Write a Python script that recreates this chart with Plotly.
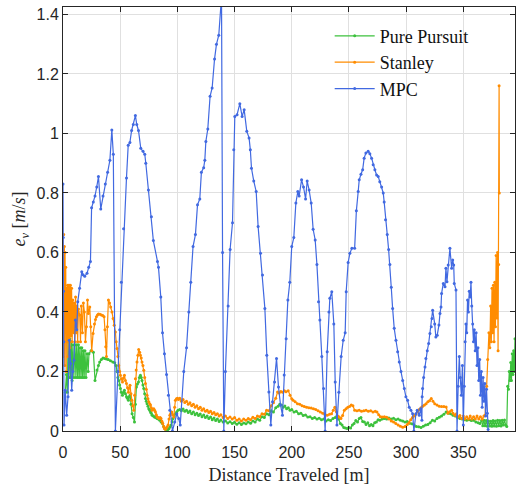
import plotly.graph_objects as go

# ---------------- data ----------------
pp_x = [2.0, 3.0, 3.8, 4.4, 5.2, 5.9, 6.6, 7.3, 8.0, 8.7, 9.5, 10.5, 11.3, 12.0, 12.8, 13.5, 14.2, 14.9, 15.7, 16.4,
        17.1, 17.8, 18.5, 19.2, 20.1, 21.0, 22.0, 22.7, 24.5, 26.6, 28.0, 29.7, 31.0, 32.1, 33.5, 35.0, 36.5, 38.0, 39.5, 41.5,
        43.5, 45.2, 46.3, 47.2, 48.0, 48.7, 49.5, 50.2, 51.0, 52.0, 53.0, 53.7, 54.6, 55.5, 56.3, 57.2, 58.0, 58.6, 59.5, 60.4,
        61.5, 62.5, 63.3, 64.2, 65.1, 66.0, 66.8, 67.7, 68.4, 69.1, 69.9, 70.6, 71.4, 72.1, 72.8, 73.5, 74.3, 75.0, 75.8, 76.5,
        77.2, 77.9, 79.0, 80.0, 81.0, 82.2, 83.4, 84.6, 85.8, 87.0, 88.0, 89.0, 90.0, 91.0, 91.8, 92.7, 93.6, 94.5, 95.3, 96.2,
        97.2, 98.3, 99.4, 100.6, 102.0, 103.5, 105.0, 106.5, 108.0, 109.5, 111.0, 112.5, 114.0, 115.5, 117.0, 118.5, 120.0, 121.5, 123.0, 124.5,
        126.0, 127.5, 129.0, 130.5, 132.0, 133.5, 135.0, 136.5, 138.0, 140.0, 142.0, 144.0, 146.0, 148.0, 150.0, 152.0, 154.0, 156.0, 158.0, 160.0,
        162.0, 164.0, 166.0, 168.0, 170.0, 172.0, 174.0, 176.0, 178.0, 180.0, 182.0, 184.0, 186.0, 188.0, 189.5, 191.0, 192.5, 194.0, 195.5, 197.0,
        198.5, 200.0, 202.0, 204.0, 206.0, 208.0, 210.0, 212.0, 214.0, 216.0, 218.0, 220.0, 222.0, 224.0, 226.0, 228.0, 230.0, 232.0, 234.0, 236.0,
        238.0, 239.5, 241.0, 242.5, 244.0, 245.5, 247.0, 248.5, 250.0, 251.5, 253.0, 254.5, 256.0, 257.5, 259.0, 260.5, 262.0, 263.5, 265.0, 266.5,
        268.0, 269.5, 271.0, 272.5, 274.0, 275.5, 277.0, 279.0, 281.0, 283.0, 285.0, 287.0, 289.0, 291.0, 293.0, 295.0, 297.0, 299.0, 301.0, 303.0,
        305.0, 307.0, 309.0, 311.0, 313.0, 315.0, 317.0, 319.0, 321.0, 323.0, 325.0, 327.0, 329.0, 331.0, 333.0, 335.0, 337.0, 339.0, 341.0, 343.0,
        345.0, 347.0, 349.0, 351.0, 353.0, 355.0, 357.0, 359.0, 361.0, 363.0, 364.5, 366.0, 367.0, 368.0, 369.0, 370.0, 371.0, 372.0, 373.0, 374.0,
        375.0, 376.0, 377.0, 378.0, 379.0, 380.0, 381.0, 382.0, 383.0, 384.0, 385.0, 386.0, 387.0, 388.0, 388.8, 389.5, 390.2, 390.8, 391.5, 392.1,
        392.8, 393.4, 394.0, 394.6, 395.2]
pp_y = [0.13, 0.19, 0.13, 0.30, 0.18, 0.31, 0.18, 0.30, 0.17, 0.29, 0.18, 0.29, 0.18, 0.29, 0.18, 0.29, 0.18, 0.28, 0.18, 0.28,
        0.18, 0.27, 0.18, 0.27, 0.18, 0.26, 0.20, 0.26, 0.27, 0.265, 0.17, 0.205, 0.22, 0.232, 0.24, 0.245, 0.244, 0.242, 0.24, 0.236,
        0.232, 0.229, 0.22, 0.20, 0.18, 0.17, 0.155, 0.143, 0.13, 0.12, 0.13, 0.137, 0.125, 0.115, 0.11, 0.103, 0.115, 0.12, 0.09, 0.058,
        0.045, 0.03, 0.09, 0.148, 0.158, 0.165, 0.18, 0.187, 0.18, 0.17, 0.155, 0.143, 0.125, 0.109, 0.10, 0.092, 0.083, 0.075, 0.07, 0.064,
        0.06, 0.053, 0.05, 0.047, 0.045, 0.042, 0.04, 0.036, 0.03, 0.025, 0.015, 0.008, 0.004, 0.002, 0.005, 0.008, 0.014, 0.02, 0.03, 0.042,
        0.05, 0.058, 0.064, 0.07, 0.072, 0.068, 0.074, 0.066, 0.07, 0.062, 0.067, 0.058, 0.064, 0.055, 0.06, 0.052, 0.057, 0.048, 0.054, 0.045,
        0.05, 0.042, 0.047, 0.038, 0.044, 0.035, 0.04, 0.032, 0.037, 0.03, 0.034, 0.027, 0.031, 0.025, 0.029, 0.023, 0.028, 0.022, 0.027, 0.024,
        0.03, 0.026, 0.034, 0.03, 0.04, 0.036, 0.048, 0.045, 0.058, 0.055, 0.068, 0.064, 0.078, 0.083, 0.09, 0.087, 0.08, 0.084, 0.075, 0.078,
        0.07, 0.072, 0.064, 0.066, 0.058, 0.06, 0.052, 0.054, 0.047, 0.048, 0.042, 0.045, 0.04, 0.043, 0.038, 0.04, 0.034, 0.038, 0.035, 0.042,
        0.045, 0.05, 0.04, 0.025, 0.02, 0.012, 0.01, 0.008, 0.012, 0.01, 0.02, 0.025, 0.035, 0.03, 0.042, 0.045, 0.032, 0.03, 0.022, 0.028,
        0.018, 0.022, 0.018, 0.028, 0.03, 0.038, 0.036, 0.04, 0.042, 0.04, 0.044, 0.04, 0.043, 0.038, 0.04, 0.036, 0.034, 0.03, 0.032, 0.026,
        0.024, 0.02, 0.015, 0.014, 0.012, 0.016, 0.02, 0.022, 0.028, 0.036, 0.034, 0.042, 0.046, 0.05, 0.056, 0.064, 0.06, 0.058, 0.053, 0.05,
        0.045, 0.042, 0.04, 0.038, 0.036, 0.038, 0.035, 0.036, 0.03, 0.028, 0.025, 0.035, 0.018, 0.036, 0.018, 0.035, 0.016, 0.034, 0.017, 0.033,
        0.016, 0.035, 0.017, 0.034, 0.016, 0.036, 0.018, 0.035, 0.017, 0.036, 0.02, 0.037, 0.02, 0.015, 0.15, 0.14, 0.20, 0.17, 0.23, 0.17,
        0.26, 0.19, 0.27, 0.20, 0.31]

st_x = [0.0, 0.3, 0.6, 0.9, 1.2, 1.5, 1.8, 2.1, 2.4, 2.8, 3.2, 3.6, 4.0, 4.4, 4.8, 5.2, 5.6, 6.0, 6.5, 7.0,
        7.5, 8.0, 8.6, 9.2, 9.8, 10.4, 11.0, 11.6, 12.2, 12.8, 13.5, 14.6, 15.3, 16.0, 17.0, 17.8, 18.7, 19.6, 20.5, 21.4,
        22.2, 23.4, 24.3, 25.1, 26.3, 27.5, 28.4, 29.2, 30.1, 31.0, 32.3, 33.6, 34.8, 35.9, 36.7, 37.4, 38.0, 38.8, 39.7, 40.7,
        41.7, 42.8, 43.8, 44.8, 45.8, 46.5, 47.2, 48.0, 48.7, 49.5, 50.2, 51.1, 52.0, 52.9, 53.7, 54.6, 55.5, 56.4, 57.2, 57.9,
        58.6, 59.4, 60.1, 61.0, 61.9, 62.6, 63.3, 64.0, 64.7, 65.5, 66.2, 67.0, 67.7, 68.4, 69.1, 69.9, 70.6, 71.4, 72.1, 72.8,
        73.5, 74.3, 75.0, 75.8, 76.5, 77.2, 77.9, 78.7, 79.4, 80.1, 80.8, 81.5, 82.2, 83.1, 84.0, 84.9, 85.7, 86.5, 87.2, 88.0,
        88.7, 89.4, 90.1, 91.0, 91.9, 92.7, 93.4, 94.3, 95.1, 96.0, 96.9, 97.6, 98.3, 99.2, 100.1, 101.0, 102.0, 103.5, 105.0, 106.5,
        108.0, 109.5, 111.0, 112.5, 114.0, 115.5, 117.0, 118.5, 120.0, 121.5, 123.0, 124.5, 126.0, 127.5, 129.0, 130.5, 132.0, 133.5, 135.0, 136.5,
        138.0, 140.0, 142.0, 144.0, 146.0, 148.0, 150.0, 152.0, 154.0, 156.0, 158.0, 160.0, 162.0, 164.0, 166.0, 168.0, 170.0, 172.0, 174.0, 176.0,
        178.0, 180.0, 182.0, 184.0, 186.0, 187.6, 189.0, 190.5, 192.0, 193.5, 195.0, 196.9, 198.5, 200.0, 201.2, 203.0, 205.0, 207.0, 209.0, 211.0,
        213.0, 215.0, 217.0, 219.0, 221.0, 223.0, 225.0, 227.0, 229.0, 231.0, 233.0, 234.8, 236.3, 237.7, 239.0, 240.3, 241.5, 243.0, 244.5, 246.0,
        247.5, 249.0, 250.5, 252.0, 253.5, 255.0, 257.0, 259.0, 261.0, 263.0, 265.0, 267.0, 269.0, 271.0, 273.0, 274.5, 276.0, 277.5, 279.0, 281.0,
        283.0, 285.0, 287.0, 289.0, 291.0, 293.0, 295.0, 297.0, 299.0, 301.0, 302.5, 304.0, 305.5, 307.0, 308.5, 310.0, 311.5, 313.0, 314.5, 316.0,
        317.5, 319.0, 320.5, 322.0, 323.5, 325.0, 327.0, 329.0, 331.0, 333.0, 335.0, 336.5, 338.0, 339.8, 341.0, 342.7, 344.0, 345.5, 347.0, 348.5,
        350.0, 351.5, 353.0, 354.5, 356.0, 357.5, 359.0, 360.5, 362.0, 363.5, 365.0, 366.5, 368.0, 369.0, 370.4, 371.3, 372.4, 373.2, 373.9, 374.5,
        375.1, 375.7, 376.3, 376.9, 377.5, 378.1, 378.7, 379.3, 379.9, 380.4, 380.9, 381.3, 381.5]
st_y = [0.66, 0.25, 0.66, 0.30, 0.62, 0.22, 0.60, 0.35, 0.55, 0.20, 0.48, 0.30, 0.49, 0.25, 0.49, 0.30, 0.49, 0.28, 0.49, 0.32,
        0.48, 0.30, 0.44, 0.33, 0.43, 0.30, 0.45, 0.33, 0.42, 0.30, 0.41, 0.39, 0.30, 0.42, 0.33, 0.43, 0.40, 0.30, 0.35, 0.44,
        0.395, 0.417, 0.35, 0.27, 0.328, 0.36, 0.375, 0.384, 0.39, 0.393, 0.392, 0.39, 0.388, 0.384, 0.34, 0.283, 0.25, 0.35, 0.44, 0.43,
        0.417, 0.40, 0.378, 0.355, 0.333, 0.30, 0.277, 0.25, 0.22, 0.20, 0.187, 0.175, 0.165, 0.178, 0.187, 0.17, 0.16, 0.145, 0.13, 0.145,
        0.154, 0.125, 0.103, 0.085, 0.07, 0.12, 0.176, 0.205, 0.232, 0.255, 0.274, 0.265, 0.255, 0.245, 0.232, 0.22, 0.204, 0.18, 0.16, 0.14,
        0.12, 0.108, 0.098, 0.092, 0.087, 0.078, 0.07, 0.073, 0.075, 0.07, 0.064, 0.055, 0.047, 0.045, 0.042, 0.045, 0.042, 0.033, 0.025, 0.015,
        0.008, 0.006, 0.008, 0.014, 0.02, 0.04, 0.053, 0.06, 0.064, 0.055, 0.047, 0.08, 0.103, 0.108, 0.11, 0.106, 0.11, 0.10, 0.106, 0.096,
        0.10, 0.09, 0.095, 0.085, 0.09, 0.08, 0.085, 0.075, 0.08, 0.07, 0.075, 0.066, 0.07, 0.062, 0.066, 0.058, 0.062, 0.055, 0.058, 0.05,
        0.055, 0.045, 0.05, 0.042, 0.047, 0.04, 0.045, 0.036, 0.04, 0.034, 0.04, 0.036, 0.042, 0.038, 0.046, 0.042, 0.05, 0.048, 0.058, 0.056,
        0.07, 0.068, 0.085, 0.095, 0.11, 0.131, 0.128, 0.133, 0.13, 0.135, 0.132, 0.135, 0.12, 0.108, 0.103, 0.098, 0.092, 0.09, 0.085, 0.082,
        0.08, 0.078, 0.077, 0.075, 0.072, 0.068, 0.064, 0.06, 0.056, 0.053, 0.056, 0.058, 0.07, 0.08, 0.065, 0.05, 0.047, 0.042, 0.052, 0.07,
        0.075, 0.08, 0.082, 0.087, 0.085, 0.07, 0.068, 0.07, 0.066, 0.068, 0.07, 0.066, 0.068, 0.064, 0.066, 0.064, 0.055, 0.048, 0.047, 0.048,
        0.046, 0.04, 0.034, 0.03, 0.025, 0.02, 0.016, 0.013, 0.015, 0.022, 0.028, 0.038, 0.045, 0.05, 0.056, 0.065, 0.072, 0.078, 0.083, 0.087,
        0.092, 0.098, 0.102, 0.109, 0.10, 0.092, 0.087, 0.083, 0.082, 0.082, 0.081, 0.06, 0.065, 0.07, 0.06, 0.053, 0.058, 0.047, 0.052, 0.042,
        0.05, 0.04, 0.048, 0.04, 0.05, 0.04, 0.048, 0.04, 0.05, 0.04, 0.048, 0.04, 0.05, 0.053, 0.15, 0.24, 0.33, 0.28, 0.42, 0.30,
        0.48, 0.33, 0.49, 0.30, 0.50, 0.35, 0.59, 0.38, 0.60, 0.27, 0.56, 1.16, 0.80]

mpc_x = [0.0, 0.2, 0.4, 0.6, 0.9, 2.0, 3.2, 4.4, 5.5, 6.7, 7.6, 8.5, 9.6, 10.8, 12.0, 12.9, 14.5, 16.4, 17.5, 19.0,
         21.0, 22.5, 24.0, 25.0, 26.5, 28.0, 29.5, 31.0, 33.0, 35.0, 37.0, 39.0, 41.0, 42.7, 44.0, 45.8, 48.0, 49.6, 51.0, 53.0,
         55.5, 57.0, 58.5, 60.0, 61.5, 63.3, 64.5, 66.0, 68.0, 70.0, 71.5, 72.4, 74.7, 77.3, 79.0, 82.6, 83.5, 85.5, 87.0, 88.7,
         90.5, 92.2, 93.4, 95.7, 97.7, 99.5, 101.2, 102.5, 105.6, 108.0, 110.0, 111.7, 113.7, 115.8, 117.6, 119.6, 121.0, 123.0, 124.0, 124.9,
         126.6, 128.6, 130.4, 132.5, 134.2, 136.2, 138.6, 139.5, 140.6, 142.0, 144.4, 146.1, 148.2, 149.3, 150.2, 152.2, 154.6, 156.6, 158.4, 160.7,
         162.7, 163.8, 164.8, 166.8, 168.9, 170.6, 172.7, 174.4, 176.5, 178.2, 180.0, 181.7, 183.2, 185.0, 186.7, 188.4, 190.2, 191.9, 193.4, 195.1,
         196.6, 198.3, 200.0, 201.8, 203.6, 205.3, 206.5, 208.6, 210.3, 212.1, 213.5, 215.2, 217.0, 218.7, 220.5, 222.0, 223.4, 224.6, 226.3, 227.8,
         229.2, 231.0, 232.5, 233.3, 235.0, 236.8, 238.0, 239.5, 241.2, 243.2, 245.0, 246.7, 247.6, 249.3, 250.8, 252.6, 255.0, 256.5, 258.1, 259.0,
         260.5, 262.0, 263.3, 264.8, 266.8, 268.3, 269.8, 271.2, 272.7, 274.2, 275.6, 277.0, 278.6, 280.0, 280.8, 282.0, 283.5, 284.7, 285.8, 287.0,
         288.2, 289.6, 291.1, 292.6, 294.0, 295.5, 297.0, 298.4, 299.8, 301.3, 302.7, 304.2, 305.7, 306.8, 308.6, 309.7, 311.5, 312.7, 313.8, 314.0,
         314.4, 315.3, 316.5, 317.3, 318.5, 319.7, 320.8, 322.0, 322.6, 323.2, 325.0, 326.0, 327.2, 328.7, 329.6, 330.5, 331.0, 332.5, 334.0, 334.8,
         335.7, 336.8, 338.3, 339.8, 340.7, 341.6, 342.1, 343.6, 344.5, 345.5, 346.5, 347.3, 348.3, 349.2, 350.0, 350.8, 351.6, 352.3, 353.0, 353.7,
         354.5, 355.2, 356.0, 356.7, 357.4, 358.2, 358.9, 359.6, 360.4, 361.2, 362.0, 362.8, 363.5, 364.3, 365.0, 365.8, 366.5, 367.3, 368.0, 368.8,
         369.5, 370.3, 371.0, 371.7]
mpc_y = [0.83, 0.65, 0.47, 0.30, 0.02, 0.137, 0.053, 0.115, 0.305, 0.227, 0.137, 0.20, 0.238, 0.373, 0.34, 0.434, 0.48, 0.535, 0.525, 0.52,
         0.53, 0.55, 0.57, 0.75, 0.77, 0.79, 0.82, 0.855, 0.746, 0.79, 0.83, 0.87, 0.91, 1.012, 0.93, 0.0, 0.20, 0.34, 0.50, 0.68,
         0.85, 0.96, 0.97, 1.01, 1.03, 1.06, 1.03, 1.01, 0.95, 0.94, 0.93, 0.90, 0.81, 0.72, 0.64, 0.57, 0.55, 0.45, 0.33, 0.26,
         0.19, 0.12, 0.07, 0.0, 0.03, 0.058, 0.042, 0.02, 0.20, 0.28, 0.40, 0.50, 0.62, 0.66, 0.76, 0.78, 0.87, 0.885, 0.91, 0.973,
         1.015, 1.125, 1.153, 1.25, 1.30, 1.33, 1.46, 0.60, 0.0, 0.20, 0.42, 0.61, 0.70, 0.945, 1.057, 1.063, 1.10, 1.057, 1.08, 1.007,
         0.985, 0.945, 0.883, 0.84, 0.805, 0.687, 0.597, 0.524, 0.412, 0.255, 0.131, 0.02, 0.098, 0.165, 0.244, 0.148, 0.087, 0.053, 0.188, 0.31,
         0.44, 0.50, 0.62, 0.65, 0.766, 0.805, 0.79, 0.844, 0.82, 0.78, 0.84, 0.81, 0.766, 0.678, 0.642, 0.56, 0.434, 0.373, 0.25, 0.143,
         0.0, 0.266, 0.40, 0.446, 0.468, 0.36, 0.165, 0.02, 0.13, 0.25, 0.305, 0.33, 0.468, 0.566, 0.597, 0.614, 0.614, 0.74, 0.805, 0.844,
         0.863, 0.878, 0.917, 0.934, 0.94, 0.932, 0.917, 0.895, 0.878, 0.86, 0.855, 0.838, 0.82, 0.80, 0.77, 0.71, 0.66, 0.61, 0.56, 0.483,
         0.412, 0.345, 0.305, 0.266, 0.232, 0.20, 0.17, 0.143, 0.115, 0.103, 0.08, 0.07, 0.058, 0.0, 0.058, 0.07, 0.053, 0.075, 0.036, 0.115,
         0.143, 0.18, 0.215, 0.244, 0.27, 0.294, 0.328, 0.35, 0.378, 0.406, 0.36, 0.316, 0.322, 0.356, 0.395, 0.417, 0.462, 0.496, 0.485, 0.547,
         0.502, 0.558, 0.614, 0.547, 0.575, 0.558, 0.496, 0.474, 0.0, 0.15, 0.25, 0.18, 0.12, 0.22, 0.02, 0.15, 0.30, 0.36, 0.33, 0.44,
         0.40, 0.47, 0.45, 0.50, 0.42, 0.36, 0.30, 0.34, 0.27, 0.33, 0.22, 0.28, 0.17, 0.24, 0.12, 0.20, 0.08, 0.18, 0.10, 0.16,
         0.05, 0.14, 0.06, 0.005]

x_ticks = [0, 50, 100, 150, 200, 250, 300, 350]
y_ticks = [0, 0.2, 0.4, 0.6, 0.8, 1.0, 1.2, 1.4]
y_tick_labels = ["0", "0.2", "0.4", "0.6", "0.8", "1", "1.2", "1.4"]

# ---------------- figure ----------------
SERIF = "Liberation Serif, DejaVu Serif, serif"
SANS = "Liberation Sans, Arial, sans-serif"

fig = go.Figure()
series = [
    ("Pure Pursuit", pp_x, pp_y, "#3CC13C"),
    ("Stanley", st_x, st_y, "#FF8C00"),
    ("MPC", mpc_x, mpc_y, "#4169E1"),
]
for name, xs, ys, col in series:
    fig.add_trace(go.Scatter(
        x=xs, y=ys, name=name, mode="lines+markers",
        line=dict(color=col, width=1.2),
        marker=dict(color=col, size=3),
    ))

axis_common = dict(
    showline=True, linecolor="#262626", linewidth=1, mirror="ticks",
    ticks="inside", ticklen=5, tickcolor="#262626",
    showgrid=True, gridcolor="#E0E0E0", gridwidth=1, zeroline=False,
    tickfont=dict(family=SANS, size=16, color="#262626"),
)

fig.update_layout(
    width=516, height=491,
    margin=dict(l=63, r=1, t=7, b=60),
    paper_bgcolor="white", plot_bgcolor="white",
    showlegend=True,
    legend=dict(
        x=0.59, y=0.975, xanchor="left", yanchor="top",
        bgcolor="rgba(0,0,0,0)", borderwidth=0,
        font=dict(family=SERIF, size=18, color="#111111"),
        tracegroupgap=0, itemwidth=40,
    ),
    xaxis=dict(
        range=[0, 395.2], tickvals=x_ticks,
        ticktext=[str(v) for v in x_ticks],
        ticklabelstandoff=7,
        title=dict(text="Distance Traveled [m]",
                   font=dict(family=SERIF, size=18, color="#262626"), standoff=8),
        **axis_common,
    ),
    yaxis=dict(
        range=[0, 1.425], tickvals=y_ticks, ticktext=y_tick_labels,
        title=dict(text="<i>e</i><sub><i>v</i></sub> [<i>m</i>/<i>s</i>]",
                   font=dict(family=SERIF, size=18, color="#262626"), standoff=6),
        **axis_common,
    ),
)

fig.write_html("out.html")
